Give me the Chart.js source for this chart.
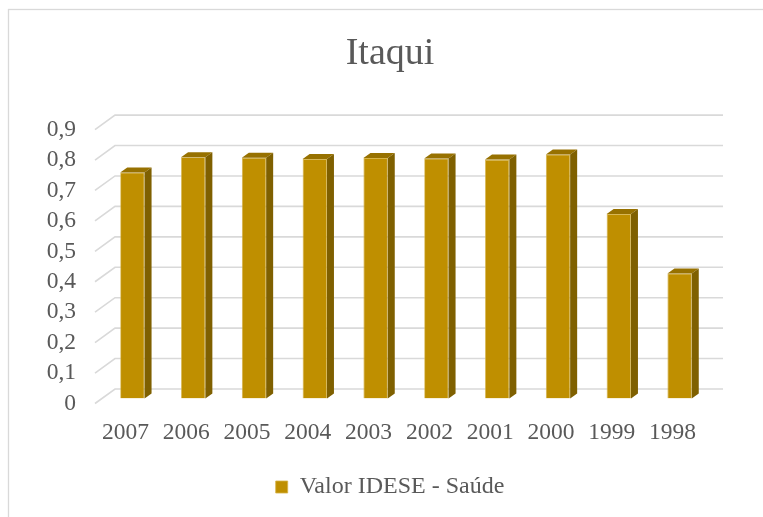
<!DOCTYPE html>
<html>
<head>
<meta charset="utf-8">
<script src="https://cdn.jsdelivr.net/npm/chart.js@4.4.0/dist/chart.umd.min.js"></script>
<style>
  html, body { margin: 0; padding: 0; background: #fff; }
  #wrap { position: relative; width: 763px; height: 517px; }
</style>
</head>
<body>
<div id="wrap"><canvas id="idese"></canvas></div>
<script>
    // ======== Data ========
    const years = ['2007', '2006', '2005', '2004', '2003', '2002', '2001', '2000', '1999', '1998'];
    const saude = [0.743, 0.793, 0.791, 0.787, 0.790, 0.789, 0.785, 0.802, 0.606, 0.411];
    const seriesName = 'Valor IDESE - Saúde';
    const chartTitle = 'Itaqui';

    // ======== Look ========
    const FACE = '#BF8F00';
    const SIDE = '#7F6000';
    const TOP = '#977100';
    const GRID = '#D9D9D9';
    const TEXT = '#595959';
    const SERIF = '"Liberation Serif", "Times New Roman", serif';
    const DEPTH = { dx: 7, dy: -5 };     // bar thickness in the fake 3d
    const FRONT = { dx: -7, dy: 5 };     // front edge of the floor vs bar face
    const BACK = { dx: 13, dy: -9.5 };   // back wall vs bar face

    // draws the 3d walls, gridlines and the bar sides
    const fake3d = {
      id: 'fake3d',
      beforeDraw(chart) {
        const c = chart.ctx;
        c.save();
        c.strokeStyle = GRID;
        c.lineWidth = 1.3;
        c.strokeRect(8.5, 9.5, 900, 700);
        c.restore();
      },
      beforeDatasetsDraw(chart) {
        const c = chart.ctx;
        const y = chart.scales.y;
        const area = chart.chartArea;
        c.save();
        c.strokeStyle = GRID;
        c.lineWidth = 1.6;
        y.ticks.forEach(t => {
          const py = y.getPixelForValue(t.value);
          c.beginPath();
          c.moveTo(area.left + FRONT.dx, py + FRONT.dy);
          c.lineTo(area.left + BACK.dx, py + BACK.dy);
          c.lineTo(area.right + BACK.dx, py + BACK.dy);
          c.stroke();
        });
        c.restore();
      },
      afterDatasetsDraw(chart) {
        const c = chart.ctx;
        const meta = chart.getDatasetMeta(0);
        c.save();
        meta.data.forEach(bar => {
          const p = bar.getProps(['x', 'y', 'base', 'width'], true);
          const l = p.x - p.width / 2, r = p.x + p.width / 2;
          // top
          c.fillStyle = TOP;
          c.beginPath();
          c.moveTo(l, p.y);
          c.lineTo(r, p.y);
          c.lineTo(r + DEPTH.dx, p.y + DEPTH.dy);
          c.lineTo(l + DEPTH.dx, p.y + DEPTH.dy);
          c.closePath();
          c.fill();
          // side
          c.fillStyle = SIDE;
          c.beginPath();
          c.moveTo(r, p.y);
          c.lineTo(r + DEPTH.dx, p.y + DEPTH.dy);
          c.lineTo(r + DEPTH.dx, p.base + DEPTH.dy);
          c.lineTo(r, p.base);
          c.closePath();
          c.fill();
        });
        c.restore();
      }
    };

    const ctx = document.getElementById('idese').getContext('2d');
    const chart = new Chart(ctx, {
      type: 'bar',
      data: {
        labels: years,
        datasets: [{
          label: seriesName,
          data: saude,
          backgroundColor: FACE,
          borderColor: '#D6B348',
          borderWidth: 0.8,
          barPercentage: 0.8,
          categoryPercentage: 0.5
        }]
      },
      plugins: [fake3d],
      options: {
        responsive: true,
        maintainAspectRatio: false,
        animation: false,
        layout: { padding: { left: 17, right: 0, top: 0, bottom: 8 } },
        plugins: {
          title: {
            display: true,
            text: chartTitle,
            color: TEXT,
            font: { family: SERIF, size: 38, weight: 'normal' },
            padding: { top: 31, bottom: 48 }
          },
          legend: {
            position: 'bottom',
            labels: {
              color: TEXT,
              font: { family: SERIF, size: 24 },
              boxWidth: 12,
              boxHeight: 12,
              padding: 14
            }
          },
          tooltip: { enabled: false }
        },
        scales: {
          x: {
            grid: { display: false, drawTicks: false },
            border: { display: false },
            ticks: { color: TEXT, font: { family: SERIF, size: 23.5 }, padding: 20.5, labelOffset: -7, maxRotation: 0, autoSkip: false },
            afterFit: s => { s.height = 62.5; }
          },
          y: {
            min: 0,
            max: 0.9,
            grid: { display: false, drawTicks: false },
            border: { display: false },
            ticks: {
              stepSize: 0.1,
              autoSkip: false,
              color: TEXT,
              font: { family: SERIF, size: 23.5 },
              padding: 26,
              labelOffset: 5,
              callback: v => Number(v.toFixed(1)).toString().replace('.', ',')
            },
            afterFit: s => { s.width = 85; }
          },
          // empty right-hand axis that only reserves the space behind the back wall
          spacer: {
            type: 'linear',
            position: 'right',
            grid: { display: false, drawTicks: false },
            border: { display: false },
            ticks: { display: false },
            afterFit: s => { s.width = 53; }
          }
        }
      }
    });
</script>
</body>
</html>
